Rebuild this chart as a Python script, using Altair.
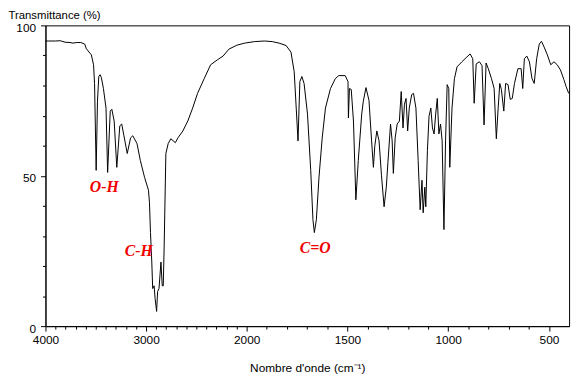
import altair as alt
import pandas as pd

# Wavenumber (cm-1) and transmittance (%)
wavenumber = [
    4000, 3971, 3902, 3854, 3805, 3756, 3727, 3688, 3649, 3610,
    3593, 3544, 3522, 3512, 3496, 3483, 3470, 3457, 3444, 3424,
    3398, 3382, 3356, 3340, 3317, 3291, 3261, 3242, 3220, 3187,
    3154, 3132, 3090, 3057, 3015, 2976, 2966, 2956, 2943, 2934,
    2920, 2910, 2895, 2885, 2871, 2852, 2839, 2829, 2820, 2803,
    2780, 2754, 2709, 2683, 2634, 2585, 2537, 2488, 2422, 2358,
    2293, 2234, 2176, 2098, 2020, 1961, 1912, 1873, 1839, 1804,
    1780, 1764, 1755, 1745, 1736, 1726, 1715, 1698, 1682, 1671,
    1664, 1654, 1641, 1625, 1609, 1584, 1560, 1543, 1511, 1497,
    1495, 1490, 1481, 1470, 1458, 1446, 1429, 1421, 1408, 1393,
    1380, 1371, 1364, 1354, 1343, 1331, 1318, 1307, 1299, 1286,
    1278, 1272, 1263, 1253, 1242, 1233, 1224, 1217, 1209, 1201,
    1193, 1181, 1172, 1160, 1149, 1139, 1130, 1124, 1116, 1111,
    1103, 1095, 1086, 1078, 1070, 1062, 1054, 1046, 1038, 1030,
    1021, 1013, 1005, 997, 992, 981, 969, 956, 932, 907,
    891, 878, 871, 861, 845, 832, 822, 812, 801, 785,
    772, 761, 752, 744, 736, 724, 715, 703, 692, 682,
    671, 654, 638, 630, 622, 610, 597, 584, 573, 561,
    548, 537, 524, 508, 491, 475, 459, 443, 426, 415,
    402,
]
transmittance = [
    94.8, 94.8, 94.8, 94.9, 94.4, 94.3, 94.1, 94.3, 94.3, 93.8,
    92.2, 90.2, 86.9, 80.7, 51.8, 74.8, 83.0, 83.6, 82.6, 79.0,
    72.5, 51.1, 71.5, 72.1, 68.2, 52.8, 66.6, 67.2, 63.3, 57.4,
    62.6, 63.3, 60.7, 55.1, 49.5, 45.2, 41.0, 31.1, 21.3, 12.5,
    13.4, 9.2, 4.9, 11.5, 12.5, 21.3, 13.4, 13.4, 26.6, 57.4,
    60.7, 62.3, 61.0, 62.6, 64.9, 68.2, 72.5, 77.4, 82.3, 86.9,
    88.5, 89.8, 92.1, 93.4, 94.1, 94.6, 94.8, 94.6, 94.1, 93.3,
    91.1, 84.6, 73.8, 61.6, 81.3, 83.0, 80.7, 70.5, 51.8, 35.4,
    31.1, 35.4, 49.5, 62.6, 72.5, 79.0, 82.3, 83.3, 83.3, 81.3,
    69.2, 79.0, 78.7, 68.2, 42.0, 55.1, 70.5, 74.8, 79.3, 75.1,
    61.6, 52.8, 60.0, 64.9, 61.6, 50.2, 39.7, 46.2, 54.4, 67.2,
    61.6, 50.8, 62.6, 67.2, 68.2, 78.0, 65.9, 73.8, 75.7, 64.9,
    72.5, 77.0, 77.4, 72.5, 55.1, 38.7, 48.5, 37.7, 46.2, 39.7,
    58.4, 69.8, 72.5, 65.9, 63.9, 70.5, 75.7, 63.9, 67.2, 61.6,
    32.1, 61.6, 80.3, 79.0, 52.8, 72.5, 82.3, 86.2, 87.9, 89.5,
    90.5, 88.9, 74.1, 87.2, 87.9, 86.6, 66.9, 87.5, 85.6, 82.3,
    79.0, 62.3, 72.5, 80.7, 78.7, 71.5, 80.7, 80.3, 75.4, 75.7,
    80.7, 85.6, 85.6, 79.0, 88.9, 89.8, 87.9, 82.3, 80.7, 88.9,
    93.8, 94.7, 92.8, 90.2, 86.9, 87.9, 86.9, 85.2, 82.0, 79.7,
    77.4,
]

# Axis ticks
x_major = [4000, 3000, 2000, 1500, 1000, 500]
x_ticks = list(range(4000, 499, -100))
y_major = [0, 50, 100]
y_ticks = list(range(0, 101, 10))

# Band annotations
band_text = ["O-H", "C-H", "C=O"]
band_wn = [3415, 3073, 1660]
band_t = [46.2, 24.9, 26.0]

df = pd.DataFrame({"i": range(len(wavenumber)), "wn": wavenumber, "t": transmittance})
ann = pd.DataFrame({"label": band_text, "wn": band_wn, "t": band_t})

xscale = alt.Scale(domain=[4000, 2000, 400], range=[0, 204, 531], zero=False, nice=False)
yscale = alt.Scale(domain=[0, 100], nice=False, zero=False)

x_major_js = "[" + ",".join(str(v) for v in x_major) + "]"
y_major_js = "[" + ",".join(str(v) for v in y_major) + "]"

x_axis = alt.Axis(
    values=x_ticks,
    tickCount=len(x_ticks) + 5,
    format="d",
    labelExpr=f"indexof({x_major_js}, datum.value) >= 0 ? datum.label : ''",
    tickSize={"condition": {"test": f"indexof({x_major_js}, datum.value) >= 0", "value": 5}, "value": 3},
    labelPadding=4,
    labelFlush=False,
    labelOverlap=False,
    title="Nombre d'onde (cm⁻¹)",
    titlePadding=17,
)
y_axis = alt.Axis(
    values=y_ticks,
    tickCount=len(y_ticks) + 5,
    format="d",
    labelExpr=f"indexof({y_major_js}, datum.value) >= 0 ? datum.label : ''",
    tickSize={"condition": {"test": f"indexof({y_major_js}, datum.value) >= 0", "value": 5}, "value": 3},
    labelPadding=5,
    labelOffset=2,
    labelFlush=False,
    labelOverlap=False,
    title="Transmittance (%)",
    titleAngle=0,
    titleAlign="left",
    titleBaseline="alphabetic",
    titleFontSize=11.5,
    titleX=-38,
    titleY=-7,
)

line = alt.Chart(df).mark_line(color="black", strokeWidth=1).encode(
    x=alt.X("wn:Q", scale=xscale, axis=x_axis),
    y=alt.Y("t:Q", scale=yscale, axis=y_axis),
    order=alt.Order("i:Q"),
)

text = alt.Chart(ann).mark_text(
    font="Liberation Serif",
    fontSize=16,
    fontWeight="bold",
    fontStyle="italic",
    color="#f00000",
    align="center",
    baseline="middle",
).encode(
    x=alt.X("wn:Q", scale=xscale),
    y=alt.Y("t:Q", scale=yscale),
    text="label:N",
)

chart = (
    alt.layer(line, text)
    .properties(
        width=531,
        height=305,
        autosize=alt.AutoSizeParams(type="none"),
        padding={"left": 38, "top": 15, "right": 7, "bottom": 52},
    )
    .configure_view(stroke="black", strokeWidth=1)
    .configure_axis(
        grid=False,
        domainColor="black",
        tickColor="black",
        labelColor="black",
        titleColor="black",
        labelFont="Liberation Sans",
        titleFont="Liberation Sans",
        labelFontSize=12,
        titleFontSize=12,
        titleFontWeight="normal",
    )
)

chart.save("out.html", embed_options={"renderer": "svg", "actions": False})
